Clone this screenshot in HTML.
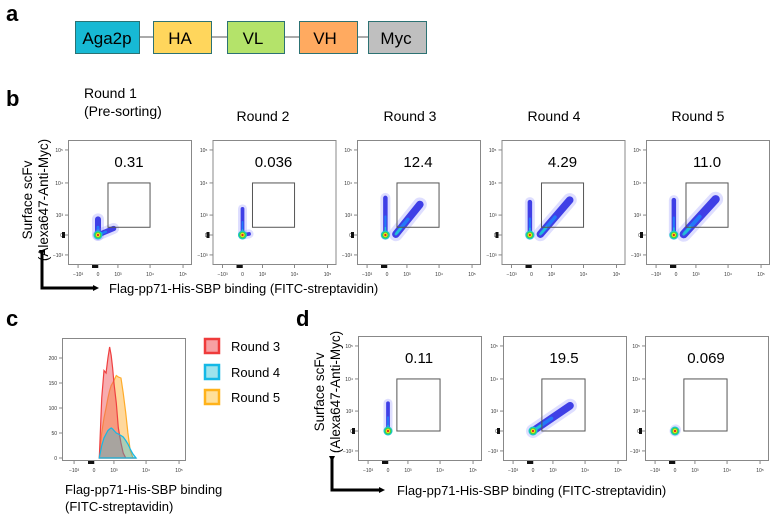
<!DOCTYPE html>
<html><head><meta charset="utf-8"><style>
html,body{margin:0;padding:0;background:#fff;}
svg{display:block;font-family:"Liberation Sans",Arial,sans-serif;}
</style></head><body>
<svg id="fig" width="777" height="517" viewBox="0 0 777 517" xmlns="http://www.w3.org/2000/svg">
<defs>
<marker id="ah" markerWidth="6" markerHeight="6" refX="3" refY="3" orient="auto" markerUnits="userSpaceOnUse"><path d="M0,0 L6,3 L0,6 z" fill="#000"/></marker>
</defs>
<text x="6" y="21" font-size="22" font-weight="bold">a</text>
<text x="6" y="106" font-size="22" font-weight="bold">b</text>
<text x="6" y="326" font-size="22" font-weight="bold">c</text>
<text x="296" y="326" font-size="22" font-weight="bold">d</text>

<g>
<line x1="139" y1="37" x2="368" y2="37" stroke="#555" stroke-width="1"/>
<rect x="75.5" y="21.5" width="64" height="32" fill="#17b9d4" stroke="#2c7273"/>
<text x="107" y="44" font-size="17" text-anchor="middle">Aga2p</text>
<rect x="153.5" y="21.5" width="58" height="32" fill="#ffd65c" stroke="#2c7273"/>
<text x="180" y="44" font-size="17" text-anchor="middle">HA</text>
<rect x="227.5" y="21.5" width="57" height="32" fill="#b4e36a" stroke="#2c7273"/>
<text x="253" y="44" font-size="17" text-anchor="middle">VL</text>
<rect x="299.5" y="21.5" width="58" height="32" fill="#ffaa60" stroke="#2c7273"/>
<text x="325" y="44" font-size="17" text-anchor="middle">VH</text>
<rect x="368.5" y="21.5" width="58" height="32" fill="#bfbfbf" stroke="#2c7273"/>
<text x="396" y="44" font-size="17" text-anchor="middle">Myc</text>
</g>

<text x="84" y="98" font-size="14">Round 1</text>
<text x="84" y="116" font-size="14">(Pre-sorting)</text>
<text x="263" y="121" font-size="14" text-anchor="middle">Round 2</text>
<text x="410" y="121" font-size="14" text-anchor="middle">Round 3</text>
<text x="554" y="121" font-size="14" text-anchor="middle">Round 4</text>
<text x="698" y="121" font-size="14" text-anchor="middle">Round 5</text>

<text transform="translate(32,200) rotate(-90)" font-size="13.5" text-anchor="middle">Surface scFv</text>
<text transform="translate(48,200) rotate(-90)" font-size="13.5" text-anchor="middle">(Alexa647-Anti-Myc)</text>
<path d="M42,253 L42,288 L96,288" fill="none" stroke="#000" stroke-width="3" marker-start="url(#ah)" marker-end="url(#ah)"/>
<text x="109" y="293" font-size="13">Flag-pp71-His-SBP binding (FITC-streptavidin)</text>

<text transform="translate(324,392) rotate(-90)" font-size="13.5" text-anchor="middle">Surface scFv</text>
<text transform="translate(340,392) rotate(-90)" font-size="13.5" text-anchor="middle">(Alexa647-Anti-Myc)</text>
<path d="M332,459 L332,490 L382,490" fill="none" stroke="#000" stroke-width="3" marker-start="url(#ah)" marker-end="url(#ah)"/>
<text x="397" y="495" font-size="13">Flag-pp71-His-SBP binding (FITC-streptavidin)</text>

<g>
<rect x="205" y="339" width="14" height="14" fill="#f7a0a3" stroke="#ef3b3b" stroke-width="2.5"/>
<text x="231" y="351" font-size="13">Round 3</text>
<rect x="205" y="365" width="14" height="14" fill="#9ee3ec" stroke="#14b8e6" stroke-width="2.5"/>
<text x="231" y="377" font-size="13">Round 4</text>
<rect x="205" y="390" width="14" height="14" fill="#ffe09a" stroke="#ffb21a" stroke-width="2.5"/>
<text x="231" y="402" font-size="13">Round 5</text>
</g>
<text x="65" y="494" font-size="13">Flag-pp71-His-SBP binding</text>
<text x="65" y="511" font-size="13">(FITC-streptavidin)</text>
</svg>
<script>
// ---- data ----
const xTickValues = [-1000, 0, 1000, 10000, 100000];
const xTickLabels = ["−10³", "0", "10³", "10⁴", "10⁵"];
const yTickValues = [100000, 10000, 1000, 0, -1000];
const yTickLabels = ["10⁵", "10⁴", "10³", "0", "−10³"];
const bPercent = ["0.31", "0.036", "12.4", "4.29", "11.0"];
const dPercent = ["0.11", "19.5", "0.069"];
const bGate = [400, 300, 10000, 10000];
const dGate = [350, 0, 10000, 10000];
// populations per plot: [x1, y1, x2, y2, widthPx]
const bPops = [
  [[0,0,0,700,8],[0,0,700,250,7]],
  [[0,0,0,1600,5],[0,0,250,40,5]],
  [[-60,0,-60,3500,6],[350,30,2600,2200,10]],
  [[-60,0,-60,2600,6],[350,30,3800,3000,10]],
  [[-80,0,-80,3000,6],[300,30,4200,3200,11]]
];
const dPops = [
  [[0,0,0,1800,5]],
  [[0,0,3500,1500,10]],
  [[0,0,20,40,7]]
];
const histCounts = [0,50,100,150,200];
const histX = [200,300,400,500,600,700,800,900,1000,1200,1400,1700,2000,2400,2800,3300,4000,5000];
const round3 = [0,120,175,170,200,222,205,180,150,110,60,30,10,0,0,0,0,0];
const round4 = [0,25,40,48,55,58,60,58,55,50,48,45,42,35,28,18,8,0];
const round5 = [0,50,80,100,120,135,145,150,155,165,162,160,130,90,50,15,0,0];

const NS = "http://www.w3.org/2000/svg";
const svg = document.getElementById("fig");
function mk(tag, attrs, parent) {
  const e = document.createElementNS(NS, tag);
  for (const k in attrs) e.setAttribute(k, attrs[k]);
  (parent || svg).appendChild(e);
  return e;
}
function bx(v) { return Math.asinh(v / 530) / Math.LN10 * 33; }
function xs(x0, v) { return x0 + 30 + bx(v); }
function ys(y0, v) { return y0 + 95 - bx(v); }

function plot(x0, y0, pct, gate, pops, name) {
  const g = mk("g", {});
  
  
  const W = 123, H = 124;
  pops.forEach(p => {
    const a = [xs(x0,p[0]), ys(y0,p[1]), xs(x0,p[2]), ys(y0,p[3])];
    const w = p[4];
    mk("line",{x1:a[0],y1:a[1],x2:a[2],y2:a[3],stroke:"#8080ff","stroke-width":w+4,"stroke-linecap":"round",opacity:0.25},g);
    mk("line",{x1:a[0],y1:a[1],x2:a[2],y2:a[3],stroke:"#1818e0","stroke-width":w*0.75,"stroke-linecap":"round",opacity:0.8},g);
    mk("line",{x1:a[0]+(a[2]-a[0])*0.05,y1:a[1]+(a[3]-a[1])*0.05,x2:a[0]+(a[2]-a[0])*0.5,y2:a[1]+(a[3]-a[1])*0.5,stroke:"#1a8cff","stroke-width":w*0.35,"stroke-linecap":"round",opacity:0.75},g);
    mk("line",{x1:a[0],y1:a[1],x2:a[0]+(a[2]-a[0])*0.2,y2:a[1]+(a[3]-a[1])*0.2,stroke:"#20d0d0","stroke-width":w*0.25,"stroke-linecap":"round",opacity:0.8},g);
  });
  const cx = xs(x0, pops[0][0]), cy = ys(y0, 0);
  mk("circle",{cx:cx,cy:cy,r:4.5,fill:"#18c8c8"},g);
  mk("circle",{cx:cx,cy:cy,r:3.3,fill:"#40d040"},g);
  mk("circle",{cx:cx,cy:cy,r:2.2,fill:"#f0e020"},g);
  mk("circle",{cx:cx,cy:cy,r:1.1,fill:"#e02020"},g);
  const fr = mk("rect",{x:x0+0.5,y:y0+0.5,width:W,height:H,fill:"none",stroke:"#888","stroke-width":1},g);
  
  
  const gx1 = xs(x0,gate[0]), gx2 = xs(x0,gate[2]), gy1 = ys(y0,gate[3]), gy2 = ys(y0,gate[1]);
  const gr = mk("rect",{x:gx1,y:gy1,width:gx2-gx1,height:gy2-gy1,fill:"none",stroke:"#555","stroke-width":1},g);
  
  
  const t = mk("text",{x:x0+61,y:y0+27,"font-size":15,"text-anchor":"middle"},g);
  t.textContent = pct;
  
  
  xTickValues.forEach((v,i) => {
    const px = xs(x0,v);
    mk("line",{x1:px,y1:y0+H+1,x2:px,y2:y0+H+4,stroke:"#555","stroke-width":0.7},g);
    const tl = mk("text",{x:px,y:y0+H+12,"font-size":5,"text-anchor":"middle",fill:"#333"},g);
    tl.textContent = xTickLabels[i];
    
    
  });
  yTickValues.forEach((v,i) => {
    const py = ys(y0,v);
    mk("line",{x1:x0-3,y1:py,x2:x0,y2:py,stroke:"#555","stroke-width":0.7},g);
    const tl = mk("text",{x:x0-5,y:py+2,"font-size":5,"text-anchor":"end",fill:"#333"},g);
    tl.textContent = yTickLabels[i];
    
    
  });
  mk("rect",{x:x0+24,y:y0+H+1,width:6,height:3,fill:"#111"},g);
  mk("rect",{x:x0-6,y:ys(y0,0)-3,width:3,height:6,fill:"#111"},g);
}
for (let i = 0; i < 5; i++) plot(68 + i*144.5, 140, bPercent[i], bGate, bPops[i], "scatter-b-round" + (i+1));
const dX = [358, 503, 645];
for (let i = 0; i < 3; i++) plot(dX[i], 336, dPercent[i], dGate, dPops[i], "scatter-d-" + (i+1));

(function(){
  const x0 = 62, y0 = 338, W = 123, H = 122;
  const hx = v => x0 + 32 + bx(v);
  const hy = c => 458 - c * 0.5;
  const g = mk("g", {});
  
  
  function area(vals, fill, stroke, nm) {
    let d = "M" + hx(histX[0]) + "," + hy(0);
    histX.forEach((v,i) => { d += " L" + hx(v) + "," + hy(vals[i]); });
    d += " L" + hx(histX[histX.length-1]) + "," + hy(0) + " Z";
    const p = mk("path",{d:d,fill:fill,stroke:stroke,"stroke-width":1.2},g);
    
    
  }
  area(round5, "rgba(255,178,60,0.5)", "#ffac2a", "hist-round5");
  area(round3, "rgba(240,90,95,0.5)", "#ef4040", "hist-round3");
  area(round4, "rgba(20,185,220,0.35)", "#14b8e6", "hist-round4");
  const fr = mk("rect",{x:x0+0.5,y:y0+0.5,width:W,height:H,fill:"none",stroke:"#888"},g);
  
  
  histCounts.forEach(c => {
    mk("line",{x1:x0-3,y1:hy(c),x2:x0,y2:hy(c),stroke:"#555","stroke-width":0.7},g);
    const tl = mk("text",{x:x0-5,y:hy(c)+2,"font-size":5,"text-anchor":"end",fill:"#333"},g);
    tl.textContent = String(c);
    
    
  });
  xTickValues.forEach((v,i) => {
    const px = hx(v);
    mk("line",{x1:px,y1:y0+H+1,x2:px,y2:y0+H+4,stroke:"#555","stroke-width":0.7},g);
    const tl = mk("text",{x:px,y:y0+H+12,"font-size":5,"text-anchor":"middle",fill:"#333"},g);
    tl.textContent = xTickLabels[i];
    
    
  });
  mk("rect",{x:x0+26,y:y0+H+1,width:6,height:3,fill:"#111"},g);
})();
</script>
</body></html>
